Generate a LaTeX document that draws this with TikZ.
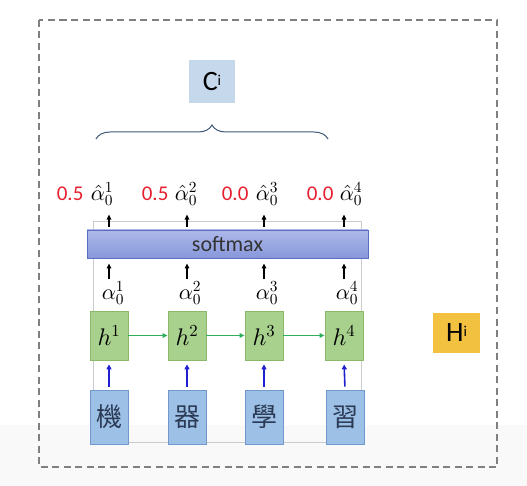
\documentclass[tikz,border=0pt]{standalone}
\usepackage[no-math]{fontspec}
\setmainfont{Carlito}
\newfontfamily\cjk{Noto Sans CJK TC}
\DeclareFontShape{OML}{cmm}{m}{it}{<->cmmi10}{}
\DeclareFontShape{OT1}{cmr}{m}{n}{<->cmr10}{}
\DeclareFontShape{OMS}{cmsy}{m}{n}{<->cmsy10}{}
\usetikzlibrary{arrows.meta,decorations.pathreplacing,calc}
\definecolor{hfill}{HTML}{A9D18E}
\definecolor{hborder}{HTML}{8CB86B}
\definecolor{wfill}{HTML}{9DC0E6}
\definecolor{wborder}{HTML}{7098CC}
\definecolor{wtext}{HTML}{2B3A55}
\definecolor{smtop}{HTML}{AEB9EA}
\definecolor{smbot}{HTML}{8797DA}
\definecolor{smborder}{HTML}{5A6EC4}
\definecolor{garrow}{HTML}{2EAF5A}
\definecolor{barrow}{HTML}{2020D0}
\definecolor{numred}{HTML}{E6202E}
\definecolor{cifill}{HTML}{C5D8EC}
\definecolor{hifill}{HTML}{F3C140}
\definecolor{bracec}{HTML}{41597A}
\definecolor{bgband}{HTML}{F9F9F9}
\begin{document}
\begin{tikzpicture}[x=1pt,y=-1pt,
  hbox/.style={draw=hborder, fill=hfill, line width=0.8pt, minimum width=38pt, minimum height=49pt, inner sep=0pt, font=\fontsize{24}{28}\selectfont},
  wbox/.style={draw=wborder, fill=wfill, line width=0.8pt, minimum width=38pt, minimum height=54pt, inner sep=0pt, font=\cjk\fontsize{26}{30}\selectfont, text=wtext},
  alab/.style={inner sep=0pt, font=\fontsize{22}{24}\selectfont},
  num/.style={inner sep=0pt, text=numred, font=\fontsize{21}{24}\selectfont},
  blkarrow/.style={-{Triangle[length=5pt,width=4.5pt]}, line width=1.3pt},
  grnarrow/.style={-{Triangle[length=5pt,width=4.5pt]}, line width=1.3pt, draw=garrow},
  bluarrow/.style={-{Triangle[length=5pt,width=5pt]}, line width=1.6pt, draw=barrow},
  labbox/.style={inner sep=0pt, font=\fontsize{28}{32}\selectfont},
]
\useasboundingbox (0,0) rectangle (527,486);
\fill[white] (0,0) rectangle (527,486);
\fill[bgband] (0,425) rectangle (527,486);
% dashed frame
\draw[gray, line width=1.2pt, dash pattern=on 7pt off 4.5pt] (39,20) rectangle (497,467);
% inner gray frame
\draw[gray!40, line width=1pt] (93,222) rectangle (361,442);
% word boxes
\node[wbox] (w1) at (109,417) {機};
\node[wbox] (w2) at (187,417) {器};
\node[wbox] (w3) at (264,417) {學};
\node[wbox] (w4) at (345,417) {習};
% hidden state boxes
\node[hbox] (h1) at (109,335.5) {$h^1$};
\node[hbox] (h2) at (187,335.5) {$h^2$};
\node[hbox] (h3) at (264,335.5) {$h^3$};
\node[hbox] (h4) at (344,335.5) {$h^4$};
% alpha labels
\node[alab] (a1) at (113,293) {$\alpha_0^1$};
\node[alab] (a2) at (190,293) {$\alpha_0^2$};
\node[alab] (a3) at (267,293) {$\alpha_0^3$};
\node[alab] (a4) at (347,293) {$\alpha_0^4$};
% softmax
\node[draw=smborder, top color=smtop, bottom color=smbot, line width=0.8pt, minimum width=281pt, minimum height=28pt, inner sep=0pt, text=black!80, font=\fontsize{22}{26}\selectfont] (sm) at (227.5,244) {softmax};
% alpha hats
\node[alab] (ah1) at (102,194) {$\hat{\alpha}_0^1$};
\node[alab] (ah2) at (186,194) {$\hat{\alpha}_0^2$};
\node[alab] (ah3) at (267,194) {$\hat{\alpha}_0^3$};
\node[alab] (ah4) at (351,194) {$\hat{\alpha}_0^4$};
\node[num, anchor=east] (n1) at ([xshift=-7pt]ah1.west) {0.5};
\node[num, anchor=east] (n2) at ([xshift=-6pt]ah2.west) {0.5};
\node[num, anchor=east] (n3) at ([xshift=-7pt]ah3.west) {0.0};
\node[num, anchor=east] (n4) at ([xshift=-6pt]ah4.west) {0.0};
% labels
\node[labbox, fill=cifill, minimum width=46pt, minimum height=43pt] (ci) at (212,81.5) {C\raisebox{5pt}{\fontsize{15}{18}\selectfont i}};
\node[labbox, fill=hifill, minimum width=47pt, minimum height=40pt] (hi) at (456.5,333) {H\raisebox{5pt}{\fontsize{15}{18}\selectfont i}};
% brace
\coordinate (bl) at (96,139);
\coordinate (br) at (328,139);
\draw[bracec, line width=1pt, decorate, decoration={brace, amplitude=14pt}] (bl) -- (br);
% connectors
\foreach \i/\j in {1/2,2/3,3/4} \draw[grnarrow] (h\i.east) -- (h\j.west);
\foreach \i in {1,2,3,4} {
  \draw[bluarrow, shorten <=3pt, shorten >=4pt] (w\i.north) -- (h\i.south);
  \draw[blkarrow, shorten <=2pt, shorten >=5pt] (a\i.north -| h\i) -- (sm.south -| h\i);
  \draw[blkarrow, shorten <=3pt] (sm.north -| h\i) -- ++(0,-15);
}
\end{tikzpicture}
\end{document}
